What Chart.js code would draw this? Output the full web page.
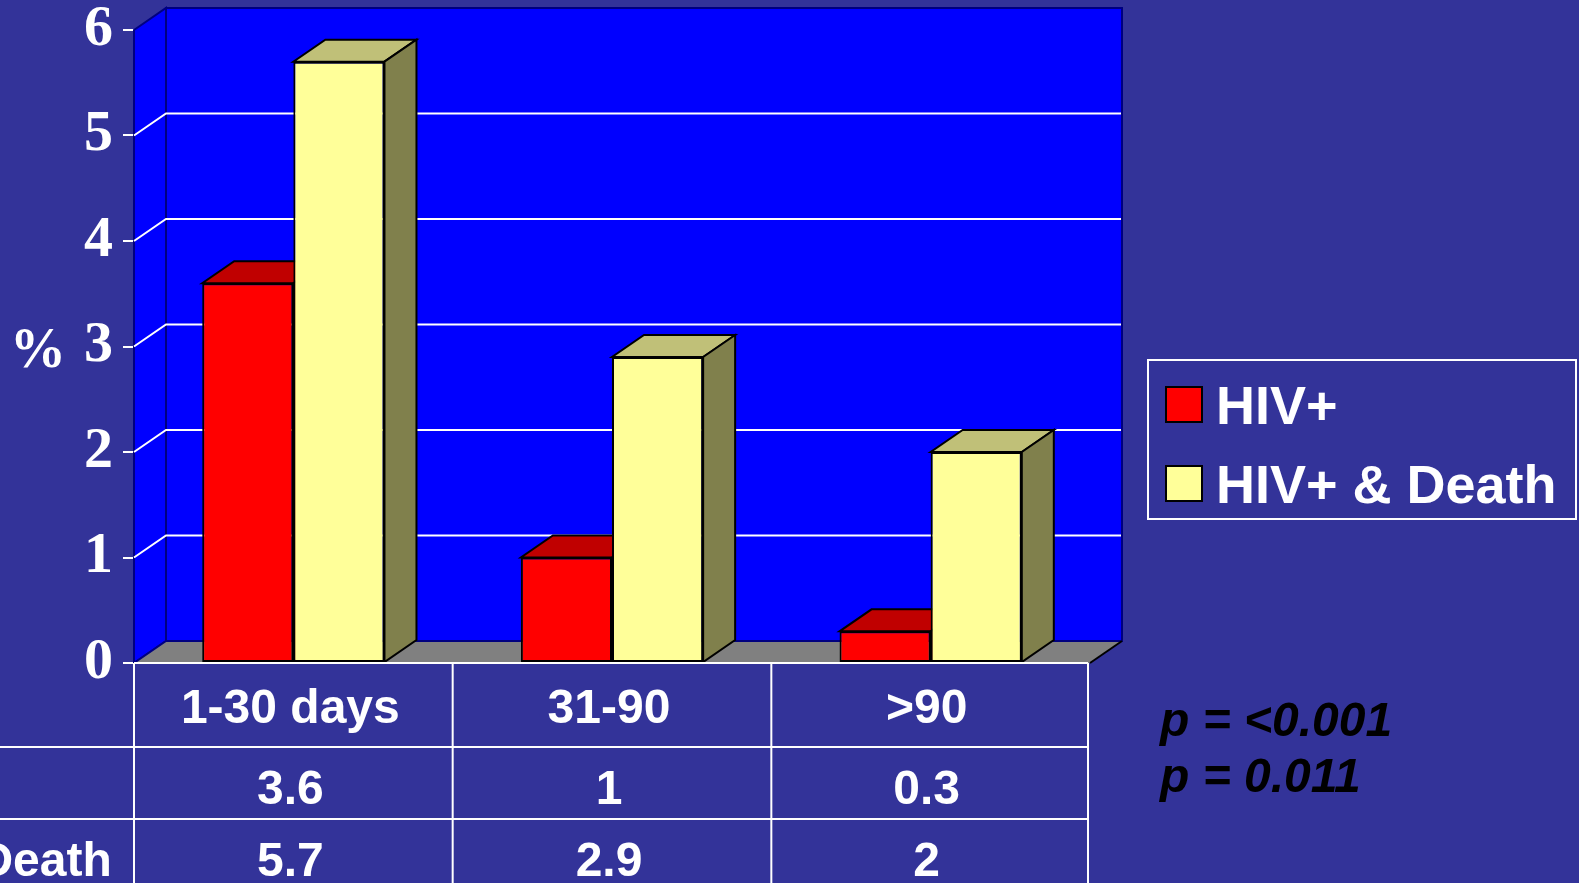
<!DOCTYPE html>
<html>
<head>
<meta charset="utf-8">
<title>HIV+ by interval</title>
<script src="https://cdn.jsdelivr.net/npm/chart.js@4/dist/chart.umd.min.js"></script>
<style>
  html, body { margin: 0; padding: 0; background: #333399; overflow: hidden; }
  #wrap { position: relative; width: 1579px; height: 883px; }
</style>
</head>
<body>
<div id="wrap"><canvas id="chart"></canvas></div>
<script>
// Interval categories and percentages per series
const categories = ['1-30 days', '31-90', '>90'];
const seriesNames = ['HIV+', 'HIV+ & Death'];
const hivPos = [3.6, 1, 0.3];
const hivDeath = [5.7, 2.9, 2];
const yTicks = [0, 1, 2, 3, 4, 5, 6];
const pValues = ['p = <0.001', 'p = 0.011'];

// Face colours: front, top, side
const faceColors = [
  { front: '#FF0000', top: '#C00000', side: '#800000' },
  { front: '#FFFF99', top: '#C0C078', side: '#80804C' }
];

const DEPTH_X = 32, DEPTH_Y = 22;
const SANS = "'Liberation Sans', Arial, sans-serif";
const SERIF = "'Liberation Serif', 'Times New Roman', serif";

function poly(ctx, pts, fill, stroke, lw) {
  ctx.beginPath();
  ctx.moveTo(pts[0][0], pts[0][1]);
  for (let i = 1; i < pts.length; i++) ctx.lineTo(pts[i][0], pts[i][1]);
  ctx.closePath();
  if (fill) { ctx.fillStyle = fill; ctx.fill(); }
  if (stroke) { ctx.strokeStyle = stroke; ctx.lineWidth = lw || 2; ctx.stroke(); }
}

// Walls, floor, back gridlines and the top/side faces of every bar
const box3d = {
  id: 'box3d',
  beforeDatasetsDraw(chart) {
    const { ctx, chartArea: a, scales } = chart;
    const y = scales.y;
    ctx.save();
    ctx.lineJoin = 'miter';
    // back wall
    poly(ctx, [[a.left + DEPTH_X, a.top - DEPTH_Y], [a.right + DEPTH_X, a.top - DEPTH_Y],
               [a.right + DEPTH_X, a.bottom - DEPTH_Y], [a.left + DEPTH_X, a.bottom - DEPTH_Y]],
         '#0000FF', '#000080', 2);
    // left side wall
    poly(ctx, [[a.left, a.top], [a.left + DEPTH_X, a.top - DEPTH_Y],
               [a.left + DEPTH_X, a.bottom - DEPTH_Y], [a.left, a.bottom]],
         '#0000FF', '#000080', 2);
    // floor
    poly(ctx, [[a.left, a.bottom], [a.right, a.bottom],
               [a.right + DEPTH_X, a.bottom - DEPTH_Y], [a.left + DEPTH_X, a.bottom - DEPTH_Y]],
         '#808080', null);
    ctx.beginPath();
    ctx.moveTo(a.left, a.bottom);
    ctx.lineTo(a.left + DEPTH_X, a.bottom - DEPTH_Y);
    ctx.lineTo(a.right + DEPTH_X, a.bottom - DEPTH_Y);
    ctx.strokeStyle = '#000080'; ctx.lineWidth = 2; ctx.stroke();
    ctx.beginPath();
    ctx.moveTo(a.right, a.bottom);
    ctx.lineTo(a.right + DEPTH_X, a.bottom - DEPTH_Y);
    ctx.strokeStyle = '#000000'; ctx.lineWidth = 2; ctx.stroke();
    // gridlines on side wall and back wall
    ctx.strokeStyle = '#FFFFFF';
    ctx.lineWidth = 2;
    yTicks.forEach(v => {
      if (v === y.min || v === y.max) return;
      const py = y.getPixelForValue(v);
      ctx.beginPath();
      ctx.moveTo(a.left, py);
      ctx.lineTo(a.left + DEPTH_X, py - DEPTH_Y);
      ctx.lineTo(a.right + DEPTH_X - 1, py - DEPTH_Y);
      ctx.stroke();
    });
    // bar tops and sides
    chart.data.datasets.forEach((ds, di) => {
      const meta = chart.getDatasetMeta(di);
      const c = faceColors[di];
      meta.data.forEach(el => {
        const l = el.x - el.width / 2, r = el.x + el.width / 2;
        poly(ctx, [[l, el.y], [r, el.y], [r + DEPTH_X, el.y - DEPTH_Y], [l + DEPTH_X, el.y - DEPTH_Y]],
             c.top, '#000000', 2);
        poly(ctx, [[r, el.y], [r + DEPTH_X, el.y - DEPTH_Y], [r + DEPTH_X, el.base - DEPTH_Y], [r, el.base]],
             c.side, '#000000', 2);
      });
    });
    ctx.restore();
  }
};

// Data table under the plot, legend box, axis unit and p-values
const extras = {
  id: 'extras',
  afterDraw(chart) {
    const { ctx, chartArea: a, scales } = chart;
    const x = scales.x;
    const n = categories.length;
    const bounds = [a.left];
    for (let i = 1; i < n; i++) bounds.push((x.getPixelForValue(i - 1) + x.getPixelForValue(i)) / 2);
    bounds.push(a.right - 2);
    const rowLines = [a.bottom, a.bottom + 84, a.bottom + 156];
    const H = chart.height;
    ctx.save();
    ctx.strokeStyle = '#FFFFFF';
    ctx.lineWidth = 2;
    // table rules
    ctx.beginPath();
    ctx.moveTo(a.left, rowLines[0]); ctx.lineTo(bounds[n], rowLines[0]);
    ctx.moveTo(0, rowLines[1]); ctx.lineTo(bounds[n], rowLines[1]);
    ctx.moveTo(0, rowLines[2]); ctx.lineTo(bounds[n], rowLines[2]);
    bounds.forEach(bx => { ctx.moveTo(bx, rowLines[0]); ctx.lineTo(bx, H); });
    ctx.stroke();

    ctx.fillStyle = '#FFFFFF';
    ctx.font = 'bold 48px ' + SANS;
    ctx.textAlign = 'center';
    ctx.textBaseline = 'alphabetic';
    const rowBase = [a.bottom + 60, a.bottom + 141, a.bottom + 213];
    categories.forEach((cat, i) => {
      const cx = (bounds[i] + bounds[i + 1]) / 2 - 3;
      ctx.fillText(cat, cx, rowBase[0]);
      chart.data.datasets.forEach((ds, di) => {
        ctx.fillText(String(ds.data[i]), cx, rowBase[1 + di]);
      });
    });
    // row labels, left-aligned in a column that begins off-canvas
    ctx.textAlign = 'left';
    chart.data.datasets.forEach((ds, di) => {
      ctx.fillText(ds.label, -191, rowBase[1 + di]);
    });

    // unit label
    ctx.font = 'bold 56px ' + SERIF;
    ctx.textAlign = 'center';
    ctx.fillText('%', 38, 367);

    // legend
    ctx.strokeStyle = '#FFFFFF';
    ctx.lineWidth = 2;
    ctx.strokeRect(1148, 360, 428, 159);
    ctx.font = 'bold 54px ' + SANS;
    ctx.textAlign = 'left';
    chart.data.datasets.forEach((ds, di) => {
      const top = 387 + di * 79;
      ctx.fillStyle = faceColors[di].front;
      ctx.fillRect(1166, top, 36, 35);
      ctx.strokeStyle = '#000000';
      ctx.lineWidth = 2;
      ctx.strokeRect(1166, top, 36, 35);
      ctx.fillStyle = '#FFFFFF';
      ctx.fillText(ds.label, 1216, top + 37);
    });

    // significance
    ctx.fillStyle = '#000000';
    ctx.font = 'italic bold 48px ' + SANS;
    pValues.forEach((t, i) => ctx.fillText(t, 1160, 736 + i * 56));
    ctx.restore();
  }
};

new Chart(document.getElementById('chart'), {
  type: 'bar',
  data: {
    labels: categories,
    datasets: [
      { label: seriesNames[0], data: hivPos, backgroundColor: faceColors[0].front,
        borderColor: '#000000', borderWidth: 2, borderSkipped: false },
      { label: seriesNames[1], data: hivDeath, backgroundColor: faceColors[1].front,
        borderColor: '#000000', borderWidth: 2, borderSkipped: false }
    ]
  },
  options: {
    responsive: true,
    maintainAspectRatio: false,
    animation: false,
    events: [],
    datasets: { bar: { categoryPercentage: 0.572, barPercentage: 1 } },
    layout: { padding: { top: 30, right: 489, bottom: 220, left: 0 } },
    plugins: { legend: { display: false }, tooltip: { enabled: false } },
    scales: {
      x: { display: false, offset: true, grid: { display: false } },
      y: {
        min: 0, max: 6,
        afterBuildTicks: s => { s.ticks = yTicks.map(v => ({ value: v })); },
        afterFit: s => { s.width = 134; s.paddingTop = 0; s.paddingBottom = 0; },
        ticks: { color: '#FFFFFF', padding: 10,
                 font: { family: SERIF, weight: 'bold', size: 58 } },
        grid: { drawOnChartArea: false, color: '#FFFFFF', lineWidth: 2, tickLength: 11 },
        border: { color: '#FFFFFF', width: 2 }
      }
    }
  },
  plugins: [box3d, extras]
});
</script>
</body>
</html>
